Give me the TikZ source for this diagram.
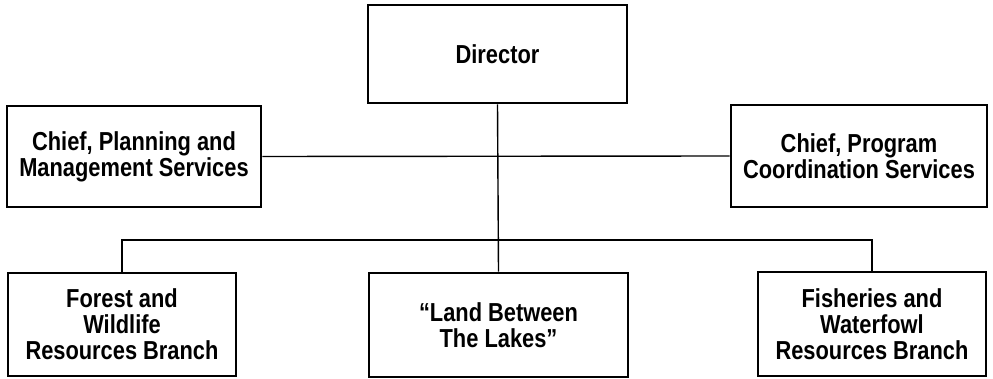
\documentclass[tikz,border=0pt]{standalone}
\usepackage{fontspec}
\setmainfont{Liberation Sans}[FakeStretch=0.84]
\begin{document}
\begin{tikzpicture}[x=1pt,y=-1pt,
  box/.style={draw=black,line width=2.6pt,rectangle,align=center,inner sep=0pt,
    font=\fontsize{26}{26}\selectfont\bfseries},
  link/.style={draw=black,line width=1.4pt}]
\useasboundingbox (0,0) rectangle (993,379);
\node[box,minimum width=259pt,minimum height=98pt] (dir) at (497.5,54) {Director};
\node[box,minimum width=254pt,minimum height=101pt] (pm) at (134,156.5) {Chief, Planning and\\Management Services};
\node[box,minimum width=256pt,minimum height=102pt] (pc) at (859,156) {Chief, Program\\Coordination Services};
\node[box,minimum width=228pt,minimum height=103pt] (fw) at (122,324.5) {Forest and\\Wildlife\\Resources Branch};
\node[box,minimum width=259pt,minimum height=104pt] (lbl) at (498.5,325) {``Land Between\\The Lakes''};
\node[box,minimum width=228pt,minimum height=104pt] (fwf) at (872,324) {Fisheries and\\Waterfowl\\Resources Branch};
\coordinate (bus) at (498.5,240);
\draw[link] (dir.south) -- (lbl.north);
\draw[link] (pm.east) -- (pc.west);
\draw[link] (fw.north) |- (bus) -| (fwf.north);
\end{tikzpicture}
\end{document}
